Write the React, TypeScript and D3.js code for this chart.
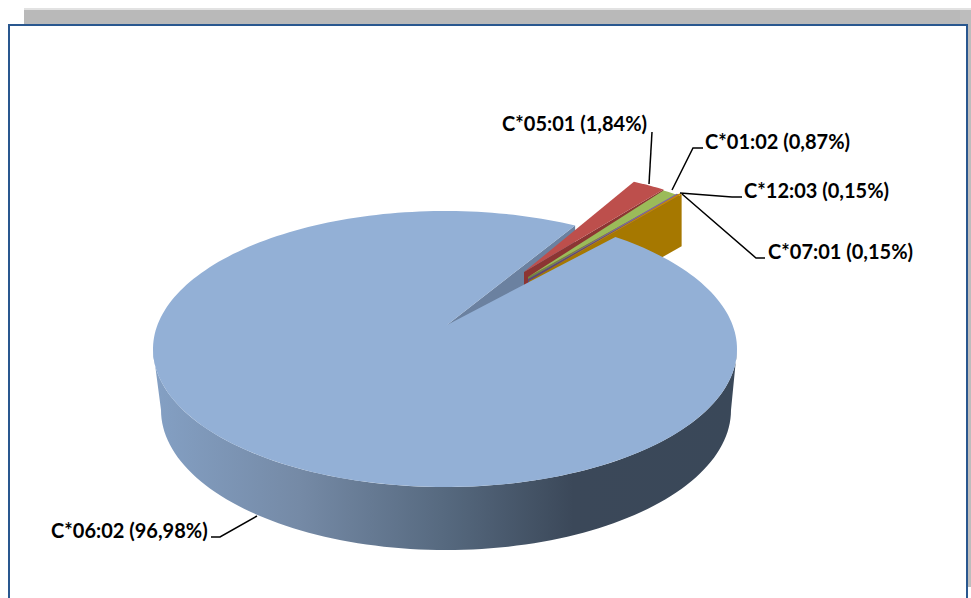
import React from "react";
import * as d3 from "d3";

const categories = ["C*06:02", "C*05:01", "C*01:02", "C*12:03", "C*07:01"];
const shares = [96.98, 1.84, 0.87, 0.15, 0.15];
const shareLabels = ["96,98", "1,84", "0,87", "0,15", "0,15"];
const topColors = ["#93b0d6", "#bd4f4c", "#9bbb59", "#8064a2", "#c58a00"];
const wallColors = ["#6b81a0", "#8c3533", "#728a40", "#5d4878", "#a67800"];

const W = 971, H = 598;
const CX = 445, CY = 349, RX = 292, RY = 138;
const APEX: [number, number] = [447, 325];
const DEPTH = 52;
const FIRST_ANGLE = (36.6 * Math.PI) / 180;
const MAIN_TRIM = [(-0.9 * Math.PI) / 180, (0.7 * Math.PI) / 180];
// offsets of pulled out slices: [rim dx, rim dy, apex dx, apex dy]
const explode = [
  [0, 0, 0, 0],
  [62, -43, 77, -53],
  [62, -42, 81, -48],
  [62, -43, 81, -46],
  [62.5, -44, 82, -44],
];
const labelAnchors: { x: number; y: number; line: [number, number][] }[] = [
  { x: 51, y: 538, line: [[211, 537], [220, 537], [257, 516]] },
  { x: 502, y: 131, line: [[652, 132], [649, 184]] },
  { x: 705, y: 149, line: [[703, 148], [693, 148], [672, 190]] },
  { x: 744, y: 198, line: [[742, 197], [732, 197], [680, 193]] },
  { x: 768, y: 259, line: [[765, 258], [756, 258], [682, 194]] },
];

const pieAngles = d3.pie<number>().sort(null).startAngle(FIRST_ANGLE).endAngle(FIRST_ANGLE + 2 * Math.PI)(shares);
const xScale = d3.scaleLinear().domain([-1, 1]).range([CX - RX, CX + RX]);
const yScale = d3.scaleLinear().domain([-1, 1]).range([CY - RY, CY + RY]);
const rim = (a: number): [number, number] => [xScale(Math.sin(a)), yScale(-Math.cos(a))];
const line = d3.line<[number, number]>();
const steps = (a0: number, a1: number, n: number) => d3.range(n + 1).map((i) => a0 + ((a1 - a0) * i) / n);

const sliceStart = (i: number) => pieAngles[i].startAngle + (i === 0 ? MAIN_TRIM[0] : 0);
const sliceEnd = (i: number) => pieAngles[i].endAngle + (i === 0 ? MAIN_TRIM[1] : 0);

const slicePts = (i: number) => {
  const [rx, ry, ax, ay] = explode[i];
  const a0 = sliceStart(i), a1 = sliceEnd(i);
  const n = Math.max(2, Math.ceil((a1 - a0) * 40));
  const arc = steps(a0, a1, n).map((a) => {
    const [x, y] = rim(a);
    return [x + rx, y + ry] as [number, number];
  });
  const apex: [number, number] = [APEX[0] + ax, APEX[1] + ay];
  return { arc, apex };
};

const down = (p: [number, number], d = DEPTH): [number, number] => [p[0], p[1] + d];

export default function App() {
  const main = slicePts(0);
  const mainEnd = rim(sliceEnd(0));
  // outer wall: front half of rim and a slightly narrower lower rim
  const front = steps(Math.PI / 2, (3 * Math.PI) / 2, 100);
  const wallTop = front.map((a) => rim(a));
  const wallBottom = front
    .slice()
    .reverse()
    .map((a) => [446 + 285 * Math.sin(a), 410 - 140 * Math.cos(a)] as [number, number]);

  return (
    <svg width={W} height={H} style={{ position: "absolute", left: 0, top: 0, background: "#fff", fontFamily: "Lato" }}>
      <defs>
        <linearGradient id="wall" gradientUnits="userSpaceOnUse" x1={153} x2={737} y1={0} y2={0}>
          <stop offset="0" stopColor="#84a0c4" />
          <stop offset="0.25" stopColor="#758aa6" />
          <stop offset="0.5" stopColor="#56697f" />
          <stop offset="0.72" stopColor="#3b4859" />
          <stop offset="1" stopColor="#3a4859" />
        </linearGradient>
      </defs>
      <rect x={24} y={8} width={947} height={20} fill="#b9b9b9" />
      <rect x={24} y={8} width={947} height={2} fill="#e2e2e2" />
      <rect x={960} y={10} width={11} height={577} fill="#bdbdbd" />
      <rect x={9} y={25} width={958} height={590} fill="#fff" stroke="#29578f" strokeWidth={2} />

      {/* end wall of the large slice, seen through the gap */}
      <path d={line([APEX, mainEnd, down(mainEnd), down(APEX)]) + "Z"} fill={wallColors[0]} />

      {/* cut walls of pulled out slices */}
      {[1, 2, 3, 4].map((i) => {
        const s = slicePts(i);
        const last = s.arc[s.arc.length - 1];
        return (
          <path key={i} d={line([s.apex, last, down(last), down(s.apex)]) + "Z"} fill={wallColors[i]} />
        );
      })}

      {/* outer wall and top of the large slice */}
      <path d={line([...wallTop, ...wallBottom]) + "Z"} fill="url(#wall)" />
      <path d={line([main.apex, ...main.arc]) + "Z"} fill={topColors[0]} />

      {/* tops of pulled out slices */}
      {[1, 2, 3, 4].map((i) => {
        const s = slicePts(i);
        return <path key={i} d={line([s.apex, ...s.arc]) + "Z"} fill={topColors[i]} />;
      })}

      {categories.map((c, i) => (
        <g key={c}>
          <path d={line(labelAnchors[i].line) ?? ""} fill="none" stroke="#000" strokeWidth={1.5} />
          <text x={labelAnchors[i].x} y={labelAnchors[i].y} fontSize={20} fontWeight={700} fill="#000">
            {`${c} (${shareLabels[i]}%)`}
          </text>
        </g>
      ))}
    </svg>
  );
}
